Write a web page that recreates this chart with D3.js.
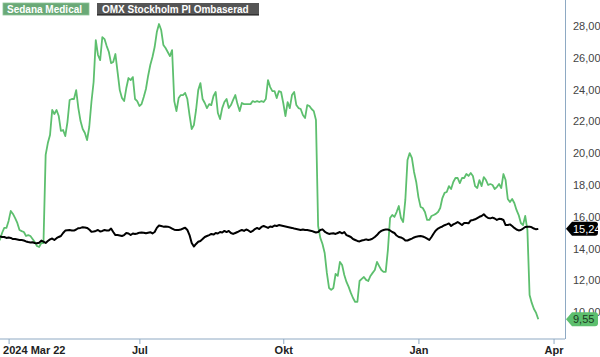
<!DOCTYPE html>
<html><head><meta charset="utf-8">
<script src="https://cdn.jsdelivr.net/npm/d3@7"></script>
<style>body{margin:0;background:#fff}svg{display:block;font-family:"Liberation Sans",Arial,sans-serif}</style>
</head><body>
<svg id="c" width="600" height="357"></svg>
<script>
// Data: one value per Stockholm trading day, starting 2024-03-22
const startDate = "2024-03-22";
const holidays = ["2024-03-29","2024-04-01","2024-05-01","2024-05-09","2024-06-06","2024-06-21","2024-12-24","2024-12-25","2024-12-26","2024-12-31","2025-01-01","2025-01-06"];
const seriesNames = ["Sedana Medical","OMX Stockholm PI Ombaserad"];
const sedana = [14.75,14.55,14.98,15.30,15.30,15.74,16.37,16.18,15.92,15.61,15.17,15.10,15.04,14.79,14.85,14.79,14.60,14.41,14.16,14.10,
14.35,14.35,19.89,20.64,21.14,22.72,22.47,22.72,22.34,21.40,21.46,21.08,21.96,23.35,23.41,23.41,23.97,22.84,22.02,21.52,
21.27,20.83,21.65,23.22,24.48,27.12,26.18,25.86,27.31,27.18,26.74,26.37,25.67,25.74,26.24,25.10,23.97,23.47,23.28,24.10,
24.73,24.60,24.79,23.41,23.28,22.97,23.09,23.53,24.04,24.86,25.55,26.05,26.68,27.62,28.13,27.75,26.81,26.62,26.37,26.11,
26.49,23.28,22.65,23.47,23.66,23.66,23.79,23.41,22.40,21.52,21.77,22.72,23.97,24.41,23.41,23.16,22.84,23.09,23.03,23.60,
23.85,22.53,22.15,22.84,23.22,23.41,22.84,23.03,23.35,23.66,23.09,22.65,23.16,23.09,23.09,23.09,23.09,23.28,23.22,23.28,
23.22,23.28,23.22,23.41,24.60,24.16,23.91,23.91,23.47,23.91,23.85,23.16,22.34,23.22,22.84,23.66,23.85,23.03,22.84,22.78,
22.40,22.21,23.03,22.97,22.78,22.65,22.09,15.42,14.67,14.29,13.72,12.47,11.52,11.40,11.52,12.40,12.28,13.16,12.97,12.34,
11.90,11.59,11.21,10.89,10.64,10.64,11.96,12.09,12.21,12.03,11.96,12.28,12.47,12.65,13.16,12.90,12.65,12.53,12.53,13.91,
15.92,16.11,15.99,16.30,16.68,15.92,15.67,17.06,19.57,20.01,19.70,18.82,18.19,17.24,16.62,16.55,16.30,15.80,15.80,16.05,
16.11,16.18,16.30,16.55,17.18,17.50,17.56,17.93,17.75,18.19,18.44,18.44,18.12,18.44,18.44,18.69,18.57,18.75,18.57,17.93,
17.81,18.31,17.93,18.50,18.31,18.00,18.06,18.00,17.75,17.87,18.06,17.81,18.69,18.31,17.12,16.93,17.12,16.87,16.43,16.11,
15.61,15.48,16.05,15.17,11.08,10.58,10.20,9.95,9.55];
const omx = [14.75,14.76,14.73,14.73,14.67,14.70,14.67,14.60,14.60,14.57,14.54,14.54,14.51,14.45,14.41,14.38,14.40,14.35,14.33,14.37,
14.50,14.43,14.35,14.48,14.58,14.63,14.54,14.65,14.73,14.79,14.98,15.13,15.15,15.17,15.14,15.13,15.20,15.28,15.30,15.34,
15.33,15.30,15.20,15.06,15.07,15.11,15.17,15.07,15.11,15.17,15.14,15.14,15.26,15.04,14.85,14.85,14.82,14.79,14.85,14.98,
14.95,14.85,14.95,14.92,14.95,15.00,15.01,15.00,14.96,15.00,15.03,14.95,15.04,15.30,15.45,15.42,15.38,15.39,15.38,15.33,
15.26,15.19,15.17,15.17,15.20,15.26,15.31,15.17,14.85,14.35,14.13,14.29,14.43,14.48,14.60,14.73,14.79,14.85,14.92,14.88,
14.98,14.95,15.04,15.01,15.11,15.04,15.11,14.98,14.92,14.98,15.04,15.11,15.17,15.11,15.20,15.14,15.04,15.11,15.23,15.30,
15.23,15.36,15.42,15.36,15.30,15.39,15.36,15.45,15.42,15.48,15.45,15.42,15.39,15.36,15.33,15.30,15.26,15.23,15.20,15.17,
15.20,15.17,15.17,15.14,15.11,15.06,15.01,15.04,15.17,15.21,15.07,14.98,14.92,14.95,14.96,14.92,14.98,15.04,14.96,15.04,
14.85,14.79,14.73,14.60,14.54,14.48,14.45,14.51,14.54,14.58,14.54,14.57,14.63,14.73,14.85,15.01,15.11,15.17,15.20,15.20,
15.14,15.04,14.98,14.82,14.73,14.70,14.63,14.51,14.51,14.57,14.63,14.70,14.75,14.77,14.79,14.76,14.70,14.63,14.54,14.73,
14.95,15.14,15.26,15.33,15.39,15.47,15.52,15.58,15.42,15.52,15.59,15.67,15.58,15.48,15.61,15.61,15.59,15.77,15.80,15.84,
15.92,16.00,16.05,16.16,16.02,15.92,15.90,15.95,15.89,15.80,15.87,15.86,15.80,15.48,15.48,15.52,15.42,15.30,15.20,15.14,
15.17,15.26,15.36,15.38,15.38,15.34,15.26,15.21,15.24];
const tickDates = ["2024-04-02","2024-07-01","2024-10-01","2025-01-02","2025-04-01"];
const tickLabels = ["2024 Mar 22","Jul","Okt","Jan","Apr"];
const yTicks = [10,12,14,16,18,20,22,24,26,28];

// trading-day calendar
const fmtISO = d3.timeFormat("%Y-%m-%d");
const hol = new Set(holidays);
const days = d3.timeDay.range(new Date(startDate+"T00:00:00"), new Date("2025-04-03T00:00:00"))
  .filter(d => d.getDay()!==0 && d.getDay()!==6 && !hol.has(fmtISO(d))).map(fmtISO);
const dayIndex = new Map(days.map((d,i)=>[d,i]));

const W=600,H=357, plotR=565, plotB=339;
const green="#5dbf6e", axisCol="#8ea9c3";
const x = d3.scaleLinear().domain([0, sedana.length-1]).range([-2.3, 538.3]);
const y = d3.scaleLinear().domain([8.31, 29.64]).range([plotB, 0]);
const loc = d3.formatLocale({decimal:",",thousands:" ",grouping:[3],currency:["","kr"]});
const f2 = loc.format(".2f");

const svg = d3.select("#c");
const clip = svg.append("clipPath").attr("id","cp").append("rect").attr("x",0).attr("y",0).attr("width",plotR).attr("height",plotB);

// y axis labels
const ya = svg.append("g").attr("transform",`translate(${plotR},0)`)
  .call(d3.axisRight(y).tickValues(yTicks).tickFormat(f2).tickSize(0).tickPadding(8));
ya.select(".domain").remove();
ya.selectAll("text").attr("fill","#444").style("font-size","11px").style("font-family","'Liberation Sans',Arial,sans-serif");

// x axis
const xa = svg.append("g").attr("transform",`translate(0,${plotB})`)
  .call(d3.axisBottom(x).tickValues(tickDates.map(d=>dayIndex.get(d))).tickFormat((d,i)=>tickLabels[i]).tickSize(5).tickPadding(2).tickSizeOuter(0));
xa.select(".domain").attr("stroke",axisCol).attr("d",`M0,0H${plotR}`);
xa.selectAll(".tick line").attr("stroke",axisCol);
xa.selectAll("text").attr("fill","#222").style("font-size","11px").style("font-weight","bold").style("font-family","'Liberation Sans',Arial,sans-serif");
xa.selectAll(".tick").filter((d,i)=>i===0).select("text").attr("text-anchor","start").attr("x",-6);

// right border
svg.append("line").attr("x1",plotR+0.5).attr("x2",plotR+0.5).attr("y1",0).attr("y2",plotB).attr("stroke",axisCol);

const line = d3.line().x((d,i)=>x(i)).y(d=>y(d));
const g = svg.append("g").attr("clip-path","url(#cp)");
g.append("path").datum(sedana).attr("d",line).attr("fill","none").attr("stroke",green).attr("stroke-width",1.8).attr("stroke-linejoin","round");
g.append("path").datum(omx).attr("d",line).attr("fill","none").attr("stroke","#000").attr("stroke-width",2).attr("stroke-linejoin","round");

// end labels
function pill(v, fill, tc){
  const yc = y(v);
  svg.append("path").attr("d",`M566,${yc} L572,${yc-7} H595 Q598,${yc-7} 598,${yc-4} V${yc+4} Q598,${yc+7} 595,${yc+7} H572 Z`).attr("fill",fill);
  svg.append("text").attr("x",573).attr("y",yc+4).attr("fill",tc).style("font-size","11px").text(f2(v));
}
pill(omx[omx.length-1], "#000", "#fff");
pill(sedana[sedana.length-1], green, "#1a3a1f");

// legend
const lg = svg.append("g").style("font-size","10px").style("font-weight","bold");
lg.append("rect").attr("x",3).attr("y",3).attr("width",86).attr("height",12).attr("fill","#6aa977").attr("stroke","#8cc497").attr("stroke-width",0.8);
lg.append("text").attr("x",7).attr("y",12.5).attr("fill","#fff").text(seriesNames[0]);
lg.append("rect").attr("x",97).attr("y",3).attr("width",162).attr("height",12).attr("fill","#555");
lg.append("line").attr("x1",97).attr("x2",259).attr("y1",15).attr("y2",15).attr("stroke","#111").attr("stroke-width",1.2);
lg.append("text").attr("x",102).attr("y",12.5).attr("fill","#fff").text(seriesNames[1]);
</script>
</body></html>
